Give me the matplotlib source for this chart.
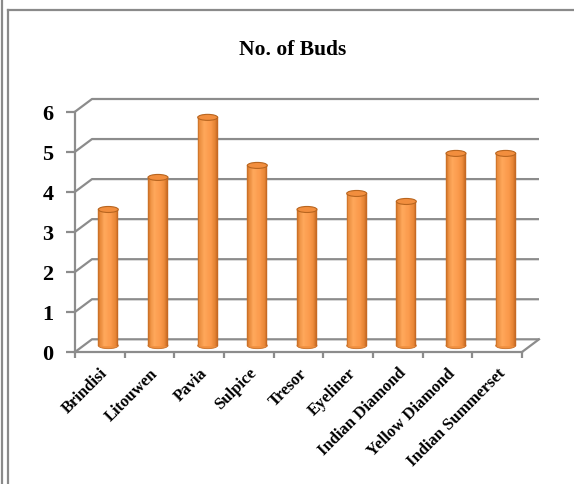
# No. of Buds - grafico de cilindros estilo Excel 3D
import numpy as np
import matplotlib
matplotlib.use('Agg')
import matplotlib.pyplot as plt
from matplotlib.patches import Ellipse
from matplotlib.lines import Line2D
from matplotlib.colors import LinearSegmentedColormap

# datos
variedades = ['Brindisi', 'Litouwen', 'Pavia', 'Sulpice', 'Tresor', 'Eyeliner',
              'Indian Diamond', 'Yellow Diamond', 'Indian Summerset']
botones = [3.4, 4.2, 5.7, 4.5, 3.4, 3.8, 3.6, 4.8, 4.8]
niveles_y = [0, 1, 2, 3, 4, 5, 6]

fuente = 'Liberation Serif'
gris = '#8c8c8c'

fig = plt.figure(figsize=(5.74, 4.85), dpi=100)
ax = fig.add_axes([75 / 574, 132 / 485, 447 / 574, 240.3 / 485])
ax.set_xlim(-0.5, len(variedades) - 0.5)
ax.set_ylim(0, 6)
ax.patch.set_alpha(0)

# profundidad del efecto 3D en unidades de datos
dx = 17 / 49.67
dy = 12.7 / 40.05

# paredes: lineas de division (pared lateral + pared trasera)
x_izq = -0.5
x_der = len(variedades) - 0.5
for nivel in niveles_y:
    ax.plot([x_izq, x_izq + dx, x_der + dx], [nivel, nivel + dy, nivel + dy],
            color=gris, lw=1.6, clip_on=False, zorder=1, solid_capstyle='butt')
# esquina derecha del piso
ax.plot([x_der, x_der + dx], [0, dy], color=gris, lw=1.6, clip_on=False, zorder=1)

# cilindros
ancho = 0.4
n_tiras = 24
mapa = LinearSegmentedColormap.from_list(
    'naranja', [(0.0, '#c2681f'), (0.1, '#e98b3c'), (0.32, '#ffa85c'),
                (0.65, '#fb9a4c'), (0.88, '#e88636'), (1.0, '#bf6420')])
t = (np.arange(n_tiras) + 0.5) / n_tiras
colores = [mapa(v) for v in t]
alto_elipse = 0.15

for i, valor in enumerate(botones):
    xc = i + dx / 2
    base = dy / 2
    # fondo redondeado
    ax.add_patch(Ellipse((xc, base), ancho, alto_elipse, facecolor='#f0903f',
                         edgecolor='#c86e27', lw=0.6, clip_on=False, zorder=3))
    xs = xc - ancho / 2 + (np.arange(n_tiras) + 0.5) * ancho / n_tiras
    ax.bar(xs, [valor] * n_tiras, width=ancho / n_tiras, bottom=base,
           color=colores, edgecolor=colores, linewidth=0.3, clip_on=False, zorder=4)
    # tapa superior
    ax.add_patch(Ellipse((xc, valor + base), ancho, alto_elipse, facecolor='#f28e3e',
                         edgecolor='#b8651f', lw=0.8, clip_on=False, zorder=5))

# ejes
for lado in ['top', 'right']:
    ax.spines[lado].set_visible(False)
for lado in ['left', 'bottom']:
    ax.spines[lado].set_color(gris)
    ax.spines[lado].set_linewidth(1.6)
    ax.spines[lado].set_zorder(2)

ax.set_yticks(niveles_y)
ax.set_yticklabels([str(n) for n in niveles_y], fontfamily=fuente,
                   fontweight='bold', fontsize=16)
ax.tick_params(axis='y', length=6.5, width=1.6, color=gris, pad=9)

ax.set_xticks(np.arange(len(variedades)))
ax.set_xticklabels(variedades, rotation=45, ha='right', rotation_mode='anchor',
                   fontfamily=fuente, fontweight='bold', fontsize=12)
ax.tick_params(axis='x', length=0, pad=9)
ax.set_xticks(np.arange(len(variedades) + 1) - 0.5, minor=True)
ax.tick_params(axis='x', which='minor', length=4, width=1.6, color=gris)

# titulo
fig.text(0.51, 1 - 50 / 485, 'No. of Buds', ha='center', va='center',
         fontfamily=fuente, fontweight='bold', fontsize=15.5)

# marco del grafico
fig.add_artist(Line2D([8 / 574, 8 / 574], [0, 1 - 11 / 485], color='#8a8a8a', lw=1.6))
fig.add_artist(Line2D([8 / 574, 1], [1 - 11 / 485, 1 - 11 / 485], color='#8a8a8a', lw=1.6))
fig.add_artist(Line2D([2 / 574, 2 / 574], [0, 1], color='#8a8a8a', lw=1.6))

fig.savefig('out.png', dpi=100)
